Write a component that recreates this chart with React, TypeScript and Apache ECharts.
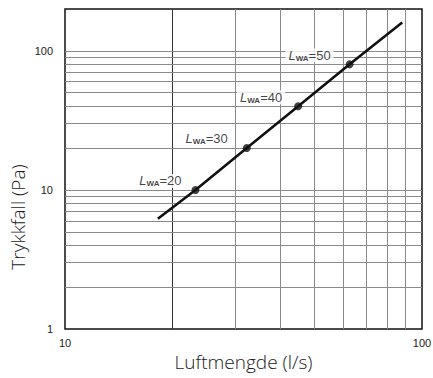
import React, { useEffect, useRef } from 'react';
import * as echarts from 'echarts';

// Curve: pressure drop vs airflow (log-log)
const curveFlow = [18.2, 23.2, 32.3, 45.0, 62.7, 88.0];
const curvePressure = [6.2, 10, 20, 40, 80, 160];
// Marked sound-power points
const markFlow = [23.2, 32.3, 45.0, 62.7];
const markPressure = [10, 20, 40, 80];
const markLevels = ['20', '30', '40', '50'];
// Minor grid values
const xGridValues = [20, 30, 40, 50, 60, 70, 80, 90];
const yGridValues = [2, 3, 4, 5, 6, 7, 8, 9, 10, 20, 30, 40, 50, 60, 70, 80, 90, 100];
// Tick labels shown
const xTickLabels = ['10', '100'];
const yTickLabels = ['1', '10', '100'];

const labelDistances = [7, 12, 9, 12];
const labelOffsets = [-9, -10, -9, -9];
const FONT = 'Liberation Sans, Arial, sans-serif';

export default function App() {
  const ref = useRef<HTMLDivElement>(null);
  useEffect(() => {
    if (!ref.current) return;
    const chart = echarts.init(ref.current, null, { renderer: 'svg' });
    const option: any = {
      animation: false,
      backgroundColor: '#fff',
      grid: {
        left: 65, right: 11, top: 9, bottom: 49,
        show: true, borderColor: '#111', borderWidth: 1.5, backgroundColor: '#fff',
        containLabel: false, outerBoundsMode: 'none',
      },
      xAxis: {
        type: 'log', logBase: 10, min: 10, max: 100,
        name: 'Luftmengde (l/s)', nameLocation: 'middle', nameGap: 23,
        nameTextStyle: { fontFamily: 'Open Sans', fontSize: 19, fontWeight: 300, color: '#1a1a1a' },
        axisLine: { show: false }, axisTick: { show: false }, splitLine: { show: false },
        axisLabel: {
          margin: 8, fontFamily: FONT, fontSize: 11, color: '#222',
          formatter: (v: number) => (xTickLabels.includes(String(Math.round(v))) ? String(Math.round(v)) : ''),
        },
      },
      yAxis: {
        type: 'log', logBase: 10, min: 1, max: 200,
        axisLine: { show: false }, axisTick: { show: false }, splitLine: { show: false },
        axisLabel: {
          margin: 12, fontFamily: FONT, fontSize: 11, color: '#222',
          formatter: (v: number) => (yTickLabels.includes(String(Math.round(v))) ? String(Math.round(v)) : ''),
        },
      },
      graphic: [
        {
          type: 'text', x: 18, y: 217, rotation: Math.PI / 2,
          style: {
            text: 'Trykkfall (Pa)', fontFamily: 'Open Sans', fontSize: 19, fontWeight: 300, fill: '#1a1a1a',
            align: 'center', verticalAlign: 'middle',
          },
        },
      ],
      series: [
        {
          name: 'grid', type: 'line', data: [], z: 1, silent: true,
          markLine: {
            z: 1, silent: true, symbol: ['none', 'none'], animation: false,
            label: { show: false },
            lineStyle: { color: '#8a8a8a', width: 1, type: 'solid' },
            emphasis: { disabled: true },
            data: [
              ...xGridValues.map((v) => ({
                xAxis: v,
                lineStyle: { color: v === 20 ? '#333' : '#8a8a8a', width: 1, type: 'solid' },
              })),
              ...yGridValues.map((v) => ({ yAxis: v })),
            ],
          },
        },
        {
          name: 'curve', type: 'line', z: 3, showSymbol: false, silent: true,
          data: curveFlow.map((f, i) => [f, curvePressure[i]]),
          lineStyle: { color: '#111', width: 2.6 },
        },
        {
          name: 'points', type: 'scatter', z: 4, silent: true,
          symbol: 'circle', symbolSize: 8, itemStyle: { color: '#111' },
          data: markFlow.map((f, i) => ({
            value: [f, markPressure[i]],
            label: {
              show: true, position: 'left', distance: labelDistances[i], offset: [0, labelOffsets[i]],
              backgroundColor: '#fff', padding: [0, 3, 0, 3],
              formatter: `{i|L}{s|WA}{n|=${markLevels[i]}}`,
              rich: {
                i: { fontFamily: FONT, fontStyle: 'italic', fontSize: 13, color: '#111', lineHeight: 14 },
                s: { fontFamily: FONT, fontSize: 8, fontWeight: 'bold', color: '#111', lineHeight: 14, padding: [6, 0, 0, 0] },
                n: { fontFamily: FONT, fontSize: 13, color: '#111', lineHeight: 14 },
              },
            },
          })),
        },
      ],
    };
    chart.setOption(option);
    return () => chart.dispose();
  }, []);
  return (
    <div
      ref={ref}
      style={{ position: 'fixed', left: 0, top: 0, width: 433, height: 378, background: '#fff' }}
    />
  );
}
